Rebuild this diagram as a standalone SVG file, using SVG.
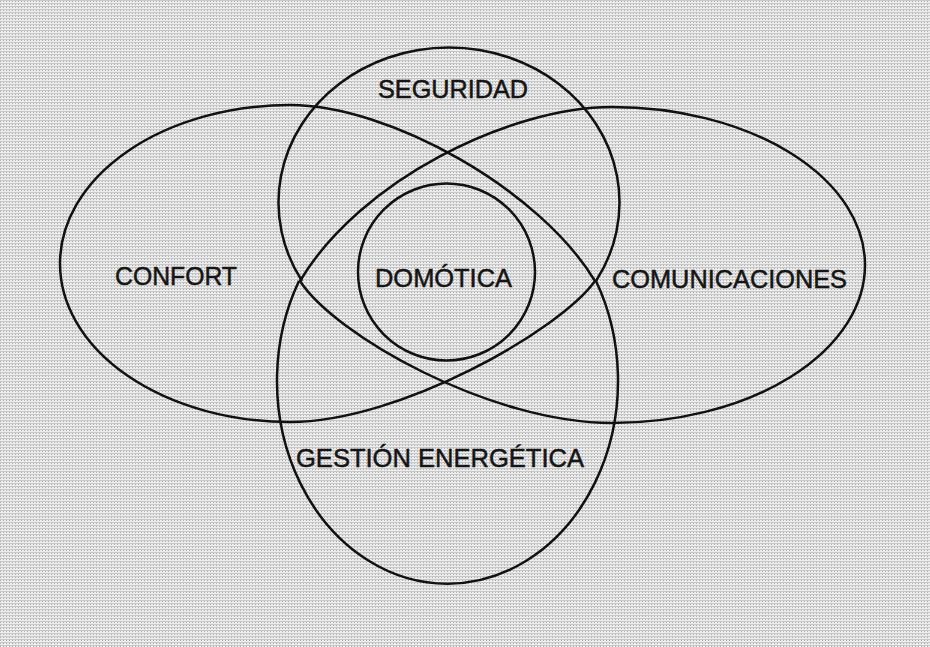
<svg xmlns="http://www.w3.org/2000/svg" width="930" height="647" viewBox="0 0 930 647">
<style>
.o{fill:none;stroke:#111;stroke-width:2.5}
.t{font-family:"Liberation Sans",Arial,sans-serif;font-size:26px;fill:#151515;stroke:#151515;stroke-width:0.5}
</style>
<defs>
<pattern id="bg" width="3" height="3" patternUnits="userSpaceOnUse">
<rect width="3" height="3" fill="#ececec"/>
<rect width="3" height="1" fill="#c8c8c8"/>
<rect x="0" y="1" width="1" height="1" fill="#b0b0b0"/>
</pattern>
</defs>
<rect width="930" height="647" fill="url(#bg)"/>
<g id="confort">
<path class="o" d="M290 105 A230 158.5 0 0 0 290 422 C400 422 560 330 595 281 C540 190 390 105 290 105 Z"/>
<text class="t" x="115" y="285" textLength="122" lengthAdjust="spacingAndGlyphs">CONFORT</text>
</g>
<g id="comunicaciones">
<path class="o" d="M612 107 A253 158 0 0 1 612 423 C490 423 335 335 300 281 C360 180 510 107 612 107 Z"/>
<text class="t" x="612" y="288" textLength="235" lengthAdjust="spacingAndGlyphs">COMUNICACIONES</text>
</g>
<g id="seguridad">
<path class="o" d="M302 281 A170.5 155 0 1 1 596 281"/>
<text class="t" x="378" y="98" textLength="150" lengthAdjust="spacingAndGlyphs">SEGURIDAD</text>
</g>
<g id="gestion">
<path class="o" d="M299 281 A170.5 203 0 1 0 596 281"/>
<text class="t" x="296" y="467" textLength="288" lengthAdjust="spacingAndGlyphs">GESTIÓN ENERGÉTICA</text>
</g>
<g id="domotica">
<circle class="o" cx="446.5" cy="272" r="88.5"/>
<text class="t" x="375" y="287" textLength="137" lengthAdjust="spacingAndGlyphs">DOMÓTICA</text>
</g>
<g id="connectors"></g>
</svg>
